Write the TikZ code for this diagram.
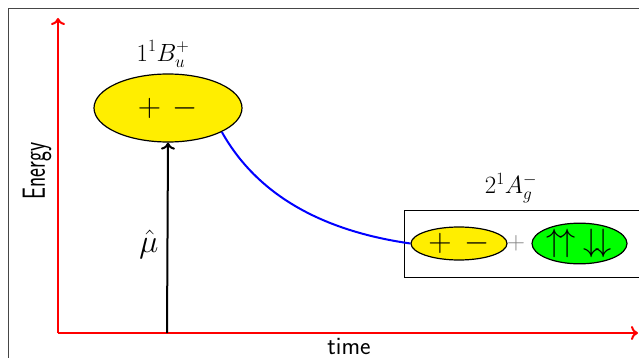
\documentclass[tikz,border=0pt]{standalone}
\usetikzlibrary{shapes.geometric,arrows.meta}
\definecolor{myyellow}{RGB}{255,238,0}
\definecolor{framegray}{RGB}{70,70,70}
\newcommand{\enlargedmath}[1]{\scalebox{1.3}{$#1$}}
\tikzset{
  statebox/.style={ellipse,draw=black,line width=1.2pt,inner sep=0pt},
  axis/.style={draw=red,line width=2pt,-{To[length=7pt,width=14pt]}},
  mathlbl/.style={font=\fontsize{25}{30}\selectfont},
}
\begin{document}
\begin{tikzpicture}[x=1pt,y=-1pt]
\useasboundingbox (0,0) rectangle (639,358);
\clip (0,0) rectangle (639,358);
\draw[framegray,line width=1pt] (8,380) -- (8,9) -- (660,9);
% axes
\coordinate (o) at (58,333);
\coordinate (ytop) at (58,18);
\coordinate (xend) at (638,333);
\draw[axis] (o) -- (ytop);
\draw[axis] (o) -- (xend);
\node[rotate=90,font=\sffamily\fontsize{32}{36}\selectfont] (energy) at (37,171) {\scalebox{0.66}[1]{Energy}};
\node[font=\sffamily\fontsize{25}{30}\selectfont] (time) at (349,346) {time};
% bright state
\node[statebox,fill=myyellow,minimum width=148pt,minimum height=68pt,mathlbl] (B) at (168,108) {\enlargedmath{{+}\hspace{9pt}{-}}};
\node[mathlbl] (Blbl) at (163,54) {$1^1B_u^+$};
\coordinate (mb) at (167,333);
\draw[black,line width=2pt,-{To[length=7pt,width=14pt]}] (mb) -- (B.south);
\node[mathlbl] (mu) at (149,244) {\enlargedmath{\hat\mu}};
% dark state
\node[draw=black,line width=1.2pt,minimum width=260pt,minimum height=67pt,anchor=north west,inner sep=0pt] (box) at (404,210) {};
\node[statebox,fill=myyellow,minimum width=96pt,minimum height=33pt,mathlbl] (A1) at (459,243.5) {\enlargedmath{{+}\hspace{10pt}{-}}};
\node[mathlbl,text=gray] (plus) at (516,243.5) {$+$};
\node[statebox,fill=green,minimum width=95pt,minimum height=35pt,mathlbl] (A2) at (579.5,243.5) {\enlargedmath{\uparrow\mkern-2mu\uparrow\hspace{6pt}\downarrow\mkern-2mu\downarrow}};
\node[mathlbl] (Albl) at (511,188) {$2^1A_g^-$};
% relaxation
\draw[blue,line width=2pt] (B.-24) .. controls (260,200) and (330,232) .. (A1.west);
\end{tikzpicture}
\end{document}
